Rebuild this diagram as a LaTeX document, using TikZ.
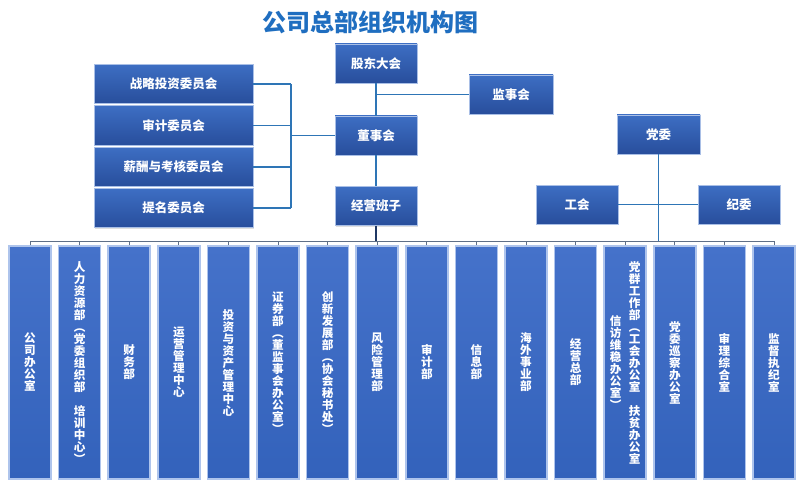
\documentclass[tikz,border=0pt]{standalone}
\usepackage{fontspec}
\setmainfont{Noto Sans CJK SC}
\usetikzlibrary{positioning, shadows}
\definecolor{titleblue}{HTML}{1F6EC0}
\definecolor{boxtop}   {HTML}{3D6EC3}
\definecolor{boxbot}   {HTML}{284E9C}
\definecolor{boxrim}   {HTML}{A9BFE6}
\definecolor{coltop}   {HTML}{4572CA}
\definecolor{colbot}   {HTML}{3362BB}
\definecolor{colrim}   {HTML}{AEC4EC}
\definecolor{linkblue} {HTML}{2E75B6}
\definecolor{busgray}  {HTML}{5F6F87}
\definecolor{trunkblue}{HTML}{1F3864}
\newcommand{\vcol}[1]{\begin{minipage}[c]{12pt}\centering\baselineskip=12pt\lineskiplimit=-5pt #1\end{minipage}}
\tikzset{
  unit/.style={minimum height=39pt, inner sep=0pt, top color=boxtop, bottom color=boxbot,
               draw=boxrim, line width=0.8pt, text=white,
               font=\fontsize{12.5}{14}\selectfont\bfseries,
               drop shadow={shadow xshift=1pt, shadow yshift=-1pt, opacity=0.25}},
  dept/.style={minimum width=42pt, minimum height=233pt, inner sep=0pt, top color=coltop,
               bottom color=colbot, draw=colrim, line width=1.5pt, text=white,
               font=\fontsize{11.6}{12}\selectfont\bfseries},
  linkline/.style={draw=linkblue, line width=1.6pt},
  busline/.style={draw=busgray, line width=0.9pt},
  trunkline/.style={draw=trunkblue, line width=1.4pt}
}
\begin{document}
\begin{tikzpicture}[x=1pt, y=-1pt]
    \useasboundingbox[fill=white] (0,0) rectangle (800,484);
    \node[font=\fontsize{24}{26}\selectfont\bfseries, text=titleblue] (title) at (370,22) {公司总部组织机构图};
    \foreach \n [count=\i] in {战略投资委员会, 审计委员会, 薪酬与考核委员会, 提名委员会}
      {\node[unit, minimum width=159pt] (com\i) at (173.5, {84+41.4*(\i-1)}) {\n};}
    \node[unit, minimum width=82pt] (share) at (376,63.5) {股东大会};
    \node[unit, minimum width=82pt] (board) at (376,135.5) {董事会};
    \node[unit, minimum width=82pt] (mgmt) at (376,206) {经营班子};
    \node[unit, minimum width=84pt] (supv) at (511,94.5) {监事会};
    \node[unit, minimum width=83pt] (party) at (658.5,134.5) {党委};
    \node[unit, minimum width=82pt] (union) at (577,204.5) {工会};
    \node[unit, minimum width=82pt] (discip) at (739,204.5) {纪委};
    \coordinate (brk) at (291,0);
    \coordinate (bus) at (0,241);
    \foreach \i in {1,...,4}
      {\draw[linkline] (com\i.east) -- (com\i.east -| brk);}
    \draw[linkline] (com1.east -| brk) -- (com4.east -| brk);
    \draw[linkline] (board.west -| brk) -- (board.west);
    \draw[linkline] (share.south) -- (board.north);
    \draw[linkline] (share.south |- supv.west) -- (supv.west);
    \draw[linkline] (board.south) -- (mgmt.north);
    \draw[linkline] (union.east) -- (discip.west);
    \foreach \t [count=\i] in
      {{\vcol{公\\司\\办\\公\\室}},
       {\vcol{人\\力\\资\\源\\部\\︵\\党\\委\\组\\织\\部\\~\\培\\训\\中\\心\\︶}},
       {\vcol{财\\务\\部}},
       {\vcol{运\\营\\管\\理\\中\\心}},
       {\vcol{投\\资\\与\\资\\产\\管\\理\\中\\心}},
       {\vcol{证\\券\\部\\︵\\董\\监\\事\\会\\办\\公\\室\\︶}},
       {\vcol{创\\新\\发\\展\\部\\︵\\协\\会\\秘\\书\\处\\︶}},
       {\vcol{风\\险\\管\\理\\部}},
       {\vcol{审\\计\\部}},
       {\vcol{信\\息\\部}},
       {\vcol{海\\外\\事\\业\\部}},
       {\vcol{经\\营\\总\\部}},
       {\vcol{信\\访\\维\\稳\\办\\公\\室\\︶}\hspace{7pt}%
        \vcol{党\\群\\工\\作\\部\\︵\\工\\会\\办\\公\\室\\~\\扶\\贫\\办\\公\\室}},
       {\vcol{党\\委\\巡\\察\\办\\公\\室}},
       {\vcol{审\\理\\综\\合\\室}},
       {\vcol{监\\督\\执\\纪\\室}}}
      {\node[dept] (dept\i) at ({30+49.6*(\i-1)}, 362.5) {\t};}
    \draw[busline] (dept1.north |- bus) -- (dept16.north |- bus);
    \foreach \i in {1,...,16}
      {\draw[busline] (dept\i.north) -- (dept\i.north |- bus);}
    \draw[trunkline] (mgmt.south) -- (mgmt.south |- bus);
    \draw[linkline] (party.south) -- (party.south |- bus);
  \end{tikzpicture}
\end{document}
